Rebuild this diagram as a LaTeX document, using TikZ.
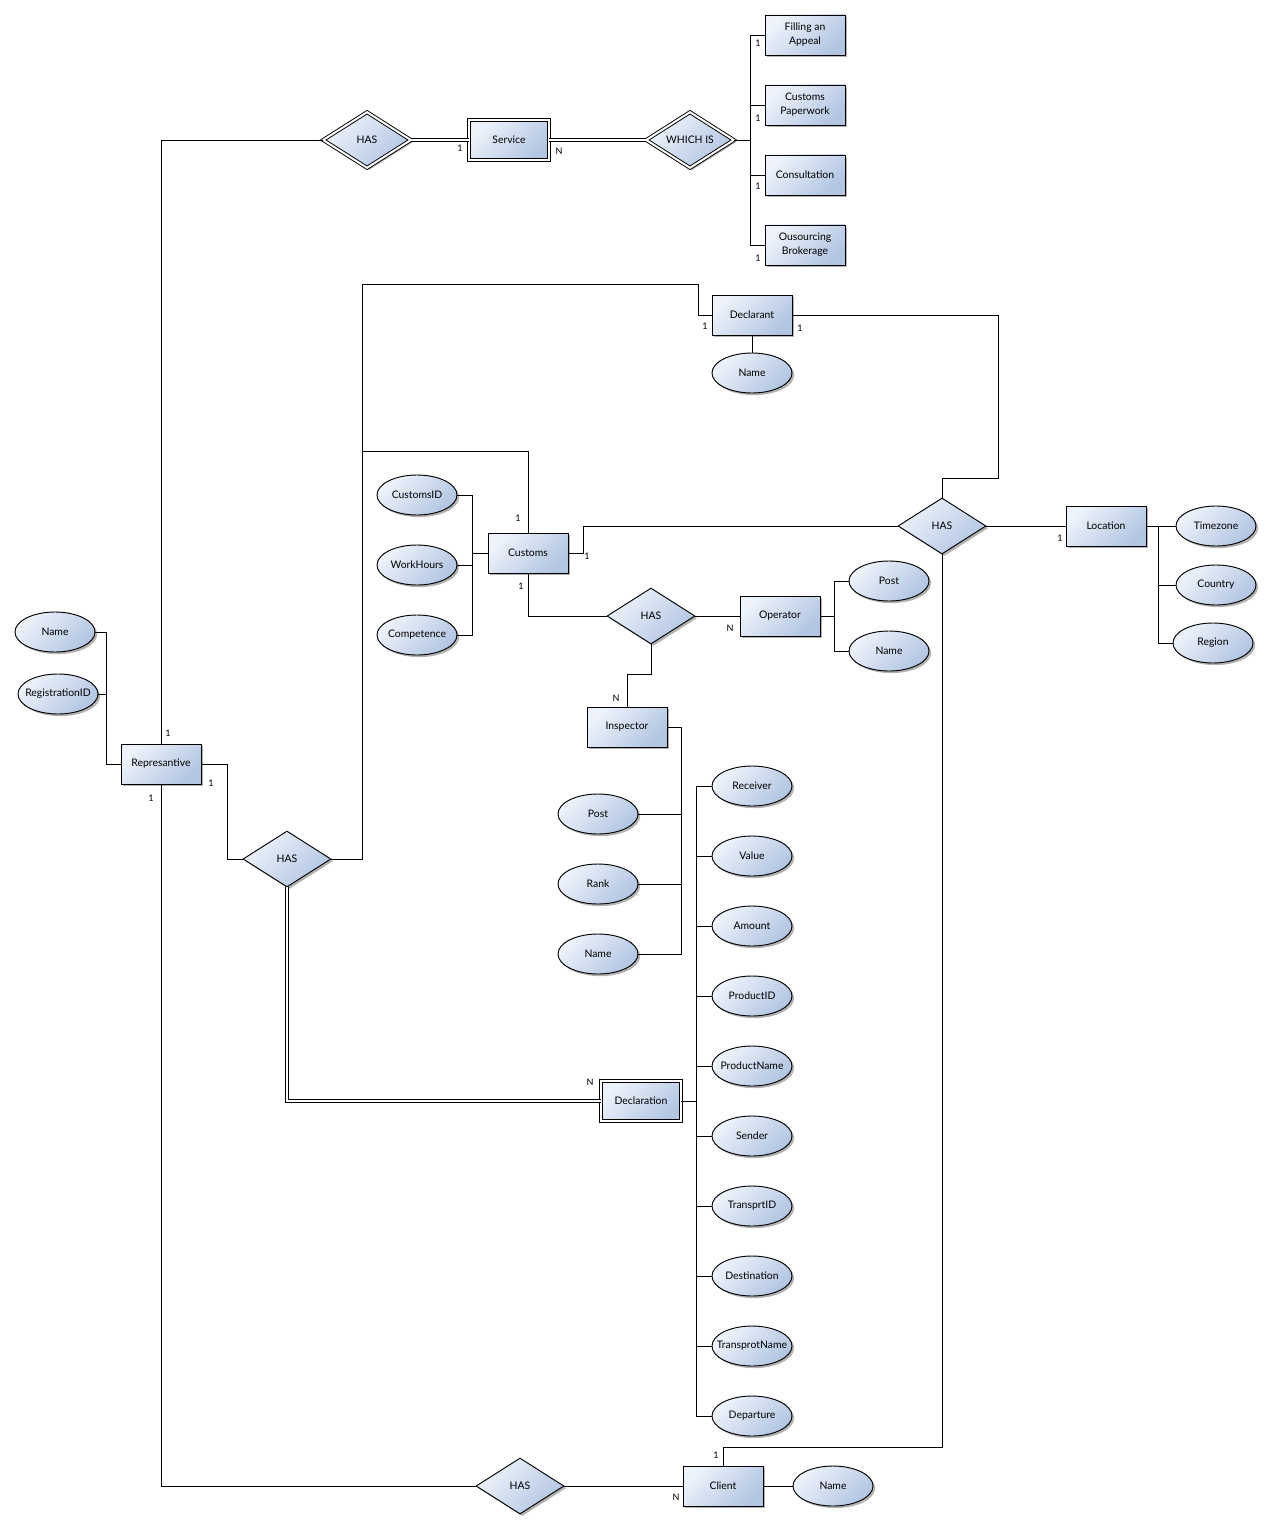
\documentclass[tikz,border=0pt]{standalone}
\usepackage{fontspec}
\setmainfont{Lato}
\usetikzlibrary{shapes.geometric,shadows}
\definecolor{cA}{RGB}{238,243,251}
\definecolor{cB}{RGB}{178,197,226}
\tikzset{
  base/.style={draw=black, line width=0.7pt, left color=cA, right color=cB, shading angle=45,
    drop shadow={shadow xshift=1.6pt, shadow yshift=-1.6pt, fill=black, opacity=0.3},
    font=\fontsize{7.8}{10.5}\selectfont, align=center},
  ent/.style={base, rectangle, minimum width=60pt, minimum height=30pt, inner sep=1pt},
  wk/.style={ent, double, double distance=1.5pt},
  attr/.style={base, ellipse, minimum width=60pt, minimum height=30pt, inner xsep=-10pt, inner ysep=0pt},
  rel/.style={base, diamond, minimum width=66pt, minimum height=42pt, aspect=1.6, inner sep=0pt},
  wrel/.style={rel, double, double distance=1.5pt},
  card/.style={font=\fontsize{6.8}{7.5}\selectfont, inner sep=0pt},
  ln/.style={line width=0.7pt},
  dbl/.style={line width=0.6pt, double, double distance=1.6pt}
}
\begin{document}
\begin{tikzpicture}[x=0.75pt,y=-0.75pt]
\useasboundingbox[fill=white] (0,0) rectangle (1272,1530);
% ---- nodes ----
\node[wrel] (hasS) at (367,140) {HAS};
\node[wk] (serv) at (509,140) {Service};
\node[wrel] (which) at (690,140) {WHICH IS};
\node[ent] (fill) at (805,35) {Filling an\\Appeal};
\node[ent] (paper) at (805,105) {Customs\\Paperwork};
\node[ent] (cons) at (805,175) {Consultation};
\node[ent] (ous) at (805,245) {Ousourcing\\Brokerage};

\node[ent] (dclr) at (752,315) {Declarant};
\node[attr] (dName) at (752,373) {Name};

\node[ent] (cust) at (528,553) {Customs};
\node[attr] (cid) at (417,495) {CustomsID};
\node[attr] (wh) at (417,565) {WorkHours};
\node[attr] (comp) at (417,635) {Competence};

\node[rel] (hasM) at (942,526) {HAS};
\node[ent] (loc) at (1106,526) {Location};
\node[attr] (tz) at (1216,526) {Timezone};
\node[attr] (ctry) at (1216,585) {Country};
\node[attr] (reg) at (1213,643) {Region};

\node[rel] (has2) at (651,616) {HAS};
\node[ent] (op) at (780,616) {Operator};
\node[attr] (opPost) at (889,581) {Post};
\node[attr] (opName) at (889,651) {Name};

\node[ent] (insp) at (627,727) {Inspector};
\node[attr] (iPost) at (598,814) {Post};
\node[attr] (iRank) at (598,884) {Rank};
\node[attr] (iName) at (598,954) {Name};

\node[attr] (rcv) at (752,786) {Receiver};
\node[attr] (val) at (752,856) {Value};
\node[attr] (amt) at (752,926) {Amount};
\node[attr] (pid) at (752,996) {ProductID};
\node[attr] (pname) at (752,1066) {ProductName};
\node[attr] (snd) at (752,1136) {Sender};
\node[attr] (tid) at (752,1206) {TransprtID};
\node[attr] (dest) at (752,1276) {Destination};
\node[attr] (tname) at (752,1346) {TransprotName};
\node[attr] (dep) at (752,1416) {Departure};
\node[wk] (decl) at (641,1101) {Declaration};

\node[ent] (rep) at (161,764) {Represantive};
\node[attr] (rName) at (55,632) {Name};
\node[attr] (rReg) at (58,694) {RegistrationID};
\node[rel] (hasL) at (287,859) {HAS};

\node[rel] (hasB) at (520,1486) {HAS};
\node[ent] (client) at (723,1486) {Client};
\node[attr] (cName) at (833,1486) {Name};

% ---- connectors ----
\coordinate (wb) at (750,140);
\coordinate (j1) at (362,451);
\coordinate (lb) at (1158,526);
\coordinate (cb) at (472,553);
\coordinate (ob) at (834,616);
\coordinate (ib) at (681,727);
\coordinate (db) at (696,1101);
\coordinate (rb) at (106,764);

\draw[ln] (hasS.west) -| (rep.north);
\draw[dbl] (hasS.east) -- (serv.west);
\draw[dbl] (serv.east) -- (which.west);
\draw[ln] (which.east) -- (wb);
\draw[ln] (fill.west) -| (wb |- ous.west) -- (ous.west);
\draw[ln] (paper.west) -- (wb |- paper.west);
\draw[ln] (cons.west) -- (wb |- cons.west);

\draw[ln] (hasL.east) -| (362,284) -| (698,315) -- (dclr.west);
\draw[ln] (j1) -| (cust.north);
\draw[ln] (dclr.south) -- (dName.north);
\draw[ln] (dclr.east) -| (998,478) -| (hasM.north);
\draw[ln] (cust.east) -- ++(15,0) |- (hasM.west);
\draw[ln] (hasM.east) -- (loc.west);
\draw[ln] (loc.east) -- (tz.west);
\draw[ln] (lb) |- (reg.west);
\draw[ln] (lb |- ctry.west) -- (ctry.west);
\draw[ln] (hasM.south) -- (942,1447) -| (client.north);

\draw[ln] (cid.east) -| (cb |- comp.east) -- (comp.east);
\draw[ln] (wh.east) -- (cb |- wh.east);
\draw[ln] (cust.west) -- (cb);

\draw[ln] (cust.south) |- (has2.west);
\draw[ln] (has2.east) -- (op.west);
\draw[ln] (op.east) -- (ob);
\draw[ln] (opPost.west) -| (ob |- opName.west) -- (opName.west);
\draw[ln] (has2.south) -- (651,674) -| (insp.north);

\draw[ln] (insp.east) -| (ib |- iName.east) -- (iName.east);
\draw[ln] (iPost.east) -- (ib |- iPost.east);
\draw[ln] (iRank.east) -- (ib |- iRank.east);

\draw[ln] (rcv.west) -| (db |- dep.west) -- (dep.west);
\foreach \n in {val,amt,pid,pname,snd,tid,dest,tname}
  \draw[ln] (\n.west) -- (db |- \n.west);
\draw[ln] (decl.east) -- (db);

\draw[dbl] (hasL.south) |- (decl.west);

\draw[ln] (rName.east) -| (rb) -- (rep.west);
\draw[ln] (rReg.east) -- (rb |- rReg.east);
\draw[ln] (rep.east) -| (227,859) -- (hasL.west);
\draw[ln] (rep.south) |- (hasB.west);
\draw[ln] (hasB.east) -- (client.west);
\draw[ln] (client.east) -- (cName.west);

% ---- cardinalities ----
\node[card] (k1) at (460,148) {1};
\node[card] (k2) at (559,151) {N};
\node[card] (k3) at (758,43) {1};
\node[card] (k4) at (758,118) {1};
\node[card] (k5) at (758,186) {1};
\node[card] (k6) at (758,258) {1};
\node[card] (k7) at (705,326) {1};
\node[card] (k8) at (800,328) {1};
\node[card] (k9) at (518,518) {1};
\node[card] (k10) at (587,556) {1};
\node[card] (k11) at (521,586) {1};
\node[card] (k12) at (1060,538) {1};
\node[card] (k13) at (730,628) {N};
\node[card] (k14) at (616,698) {N};
\node[card] (k15) at (168,733) {1};
\node[card] (k16) at (211,783) {1};
\node[card] (k17) at (151,798) {1};
\node[card] (k18) at (590,1082) {N};
\node[card] (k19) at (716,1455) {1};
\node[card] (k20) at (676,1497) {N};
\end{tikzpicture}
\end{document}
